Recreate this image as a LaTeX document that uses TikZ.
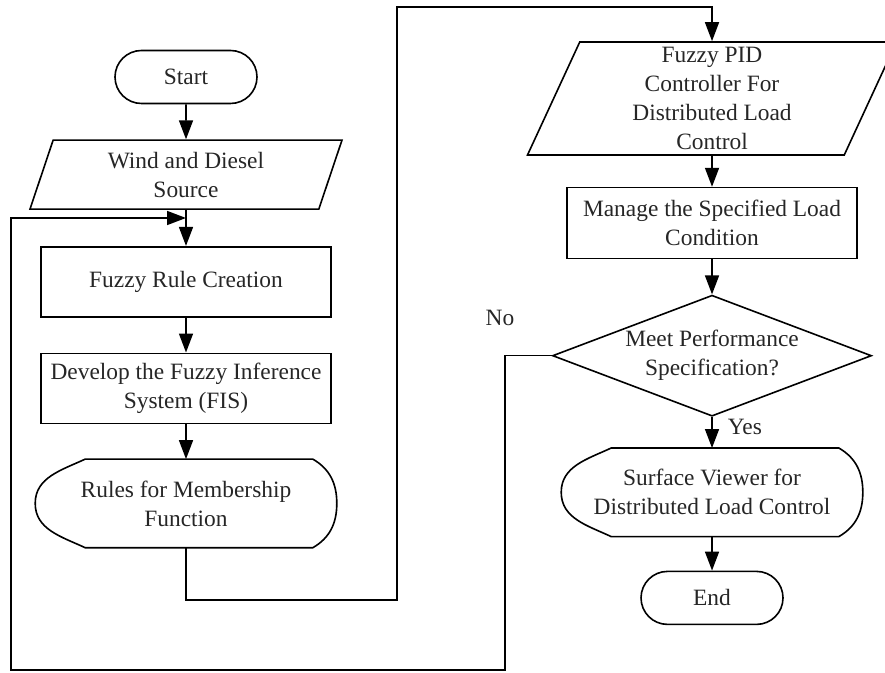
\documentclass[tikz,border=0pt]{standalone}
\usepackage{fontspec}
\setmainfont{Liberation Serif}
\usetikzlibrary{arrows.meta, positioning, shapes.geometric, shapes.misc}

\begin{document}
\begin{tikzpicture}[x=1pt, y=1pt, line width=1.6pt,
    every node/.style={font=\fontsize{23.4}{29}\selectfont, align=center, inner sep=0pt, text=black!85},
    term/.style={draw, rounded rectangle, minimum width=142pt, minimum height=53pt},
    io/.style={draw, trapezium, trapezium left angle=63, trapezium right angle=117, trapezium stretches body},
    proc/.style={draw, rectangle, minimum width=290pt, minimum height=70pt},
    disp/.style={rectangle, minimum width=300pt, minimum height=87pt},
    decision/.style={draw, diamond, shape aspect=2.64, minimum width=319pt, minimum height=121pt},
    flow/.style={-{Triangle[length=19pt, width=14pt]}}]
        \useasboundingbox (0,0) rectangle (885,672);

        % left column
        \node[term] (start) at (186,595) {Start};
        \node[io, minimum width=312pt, minimum height=69pt, below=35pt of start] (source) {Wind and Diesel\\Source};
        \node[proc, below=36pt of source] (rule) {Fuzzy Rule Creation};
        \node[proc, below=35pt of rule] (fis) {Develop the Fuzzy Inference\\System (FIS)};
        \node[disp, below=35pt of fis] (member) {Rules for Membership\\Function};

        % right column
        \node[io, minimum width=369pt, minimum height=113pt] (pid) at (712,573.5) {Fuzzy PID\\Controller For\\Distributed Load\\Control};
        \node[proc, minimum height=71pt, below=31pt of pid] (manage) {Manage the Specified Load\\Condition};
        \node[decision, below=35pt of manage] (meet) {Meet Performance\\Specification?};
        \node[disp, below=31pt of meet] (viewer) {Surface Viewer for\\Distributed Load Control};
        \node[term, below=34pt of viewer] (stop) {End};

        % outline of the display boxes
        \foreach \d in {member, viewer}
            \draw ([xshift=50pt]\d.north west) -- ([xshift=-24pt]\d.north east) to[out=-30, in=90] (\d.east)
                to[out=-90, in=30] ([xshift=-24pt]\d.south east) -- ([xshift=50pt]\d.south west)
                to[out=155, in=-90] (\d.west) to[out=90, in=205] ([xshift=50pt]\d.north west) -- cycle;

        \coordinate (loopa) at (397,72);
        \coordinate (loopb) at (397,665);
        \coordinate (noa) at (505,2);
        \coordinate (nob) at (11,454);
        \coordinate (join) at (186,454);

        \draw[flow] (start) -- (source);
        \draw[flow] (source) -- (rule);
        \draw[flow] (rule) -- (fis);
        \draw[flow] (fis) -- (member);
        \draw[flow] (member.south) |- (loopa) -- (loopb) -| (pid.north);
        \draw[flow] (pid) -- (manage);
        \draw[flow] (manage) -- (meet);
        \draw[flow] (meet) -- (viewer);
        \draw[flow] (viewer) -- (stop);
        \draw[flow] (meet.west) -| (noa) -| (nob) -- (join);

        \node[anchor=west] (yes) at (727,245) {Yes};
        \node (no) at (500,354) {No};
    \end{tikzpicture}
\end{document}
